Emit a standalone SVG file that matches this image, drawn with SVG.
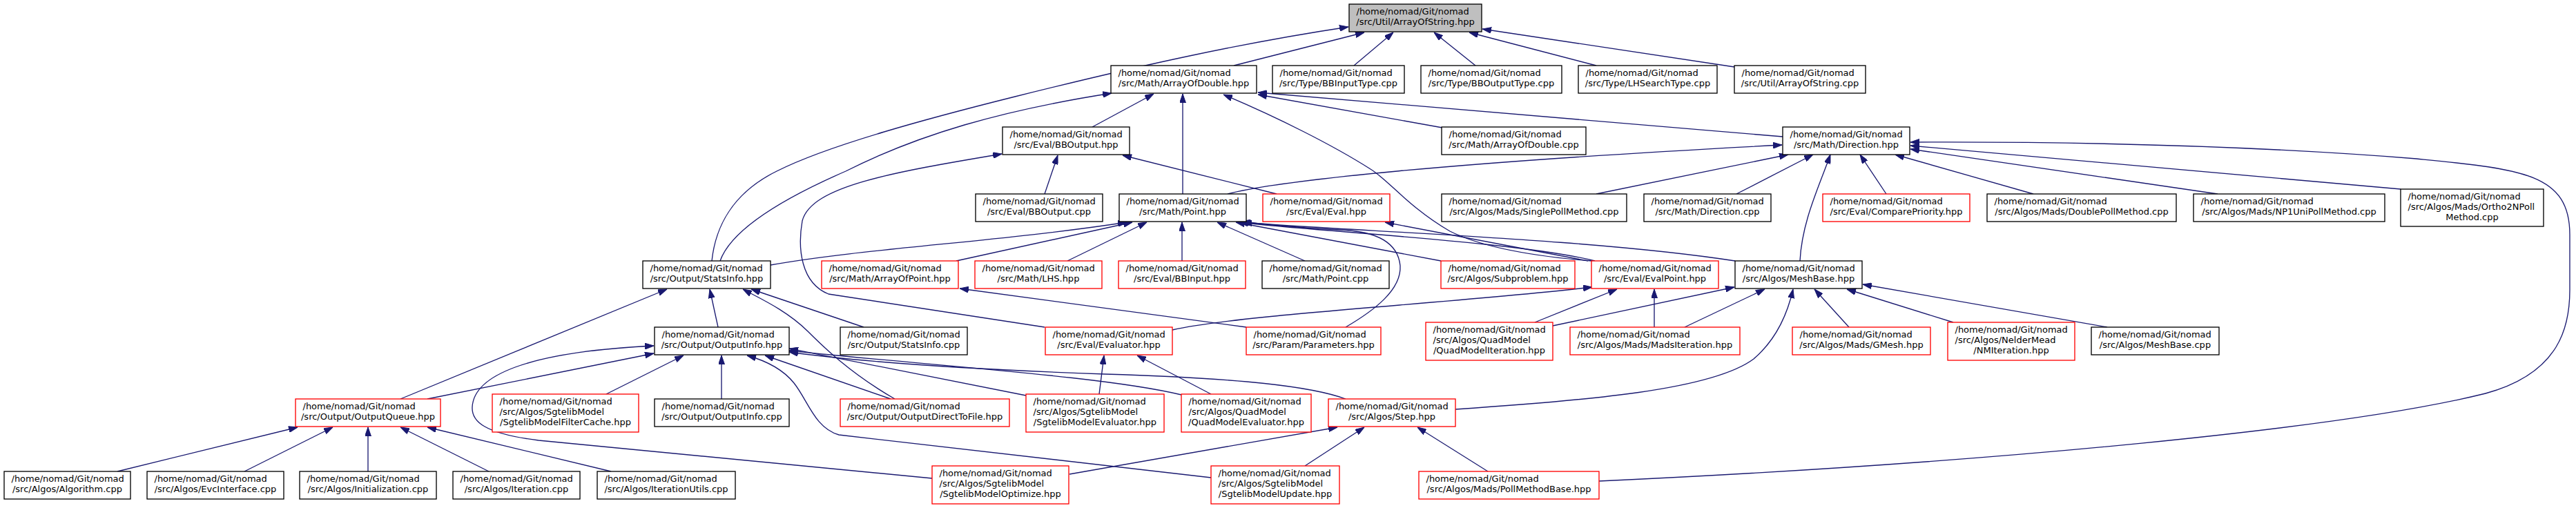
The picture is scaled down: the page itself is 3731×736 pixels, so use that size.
<svg xmlns="http://www.w3.org/2000/svg" width="3731" height="736" viewBox="0 0 3731 736">
<style>
.n rect{fill:#fff;stroke:#000;stroke-width:1.33}
.n.r rect{stroke:#f00}
.n.g rect{fill:#bfbfbf}
text{font-family:"DejaVu Sans",sans-serif;font-size:13px;fill:#000}
.m{text-anchor:middle}
.e path{fill:none;stroke:#191970;stroke-width:1.33;marker-end:url(#a)}
</style>
<defs>
<marker id="a" viewBox="0 0 13 9" refX="13" refY="4.5" markerWidth="13" markerHeight="9" markerUnits="userSpaceOnUse" orient="auto"><path d="M0,0 L13,4.5 L0,9 z" fill="#191970" stroke="#191970"/></marker>
</defs>
<rect width="3731" height="736" fill="#fff"/>
<g class="e">
<path d="M1031,378 C1036,330 1060,280 1125,248 C1200,210 1350,170 1470,140 C1650,95 1800,62 1953,39"/>
<path d="M1787,95 L1976,47"/>
<path d="M1961,95 L2018,47"/>
<path d="M2137,95 L2077,47"/>
<path d="M2312,95 L2128,47"/>
<path d="M2512,97 L2147,42"/>
<path d="M1582,184 L1671,136"/>
<path d="M1713,281 L1713,136"/>
<path d="M1043,378 C1060,330 1140,285 1225,248 C1330,195 1450,160 1610,135"/>
<path d="M2089,185 L1822,137"/>
<path d="M2582,198 L1822,134"/>
<path d="M2305,378 C2230,372 2150,360 2100,335 C2040,300 2010,260 1985,245 C1930,210 1850,170 1772,137"/>
<path d="M1778,281 C1850,262 2100,235 2581,210"/>
<path d="M2312,281 L2590,224"/>
<path d="M2515,281 L2626,224"/>
<path d="M2607,378 C2610,320 2635,270 2651,224"/>
<path d="M2732,281 L2694,224"/>
<path d="M2945,281 L2745,224"/>
<path d="M3212,281 L2767,216"/>
<path d="M3477,274 L2767,211"/>
<path d="M2316,697 C2900,670 3400,620 3600,570 C3710,540 3722,470 3722,420 L3722,340 C3722,250 3650,245 3500,230 C3250,210 3000,205 2767,206"/>
<path d="M1849,281 L1626,225"/>
<path d="M1513,474 L1200,426 C1160,410 1155,360 1162,320 C1175,270 1290,250 1451,223"/>
<path d="M1513,281 L1532,225"/>
<path d="M1116,384 C1250,360 1450,350 1632,322"/>
<path d="M1385,378 L1640,322"/>
<path d="M1546,378 L1661,322"/>
<path d="M1712,378 L1712,322"/>
<path d="M1890,378 L1763,322"/>
<path d="M2087,378 L1790,322"/>
<path d="M2310,378 C2200,350 1900,335 1795,322"/>
<path d="M2513,378 C2300,345 1950,335 1800,322"/>
<path d="M1949,474 C1990,450 2030,420 2028,385 C2025,355 2000,335 1940,333 C1880,330 1830,325 1798,321"/>
<path d="M2300,378 L2006,322"/>
<path d="M580,578 L966,419"/>
<path d="M1040,474 L1028,419"/>
<path d="M1296,578 C1230,540 1190,500 1170,480 C1140,450 1100,432 1076,419"/>
<path d="M1251,474 L1088,419"/>
<path d="M1805,474 L1390,418"/>
<path d="M619,578 L947,512"/>
<path d="M1350,693 L780,638 C700,628 683,610 684,590 C686,545 760,510 947,501"/>
<path d="M878,571 L990,515"/>
<path d="M1045,578 L1045,515"/>
<path d="M1754,692 L1215,630 C1180,620 1170,580 1150,555 C1130,530 1100,520 1082,515"/>
<path d="M1290,578 L1108,515"/>
<path d="M1486,573 L1143,505"/>
<path d="M1711,572 C1600,545 1350,530 1143,508"/>
<path d="M1949,578 C1900,560 1800,548 1600,542 C1400,535 1250,525 1143,510"/>
<path d="M1592,571 L1599,515"/>
<path d="M1754,571 L1647,515"/>
<path d="M1698,478 C1800,455 2100,440 2306,416"/>
<path d="M2223,467 L2342,419"/>
<path d="M2396,474 L2396,419"/>
<path d="M2249,472 L2512,416"/>
<path d="M2440,474 L2556,419"/>
<path d="M2108,593 C2300,580 2480,565 2540,520 C2575,490 2590,450 2597,419"/>
<path d="M2678,474 L2628,419"/>
<path d="M2829,467 L2675,419"/>
<path d="M3052,474 L2698,412"/>
<path d="M1549,687 L1937,619"/>
<path d="M1890,675 L1976,619"/>
<path d="M2155,683 L2053,619"/>
<path d="M170,683 L431,619"/>
<path d="M354,683 L482,619"/>
<path d="M533,683 L533,619"/>
<path d="M708,683 L580,619"/>
<path d="M885,683 L619,619"/>
</g>
<g id="n0" class="n g"><rect x="1954" y="6" width="192" height="40"/><text x="1964.5" y="21">/home/nomad/Git/nomad</text><text class="m" x="2050" y="36">/src/Util/ArrayOfString.hpp</text></g>
<g id="n1" class="n"><rect x="1609" y="95" width="211" height="40"/><text x="1619.5" y="110">/home/nomad/Git/nomad</text><text class="m" x="1714.5" y="125">/src/Math/ArrayOfDouble.hpp</text></g>
<g id="n2" class="n"><rect x="1843" y="95" width="191" height="40"/><text x="1853.5" y="110">/home/nomad/Git/nomad</text><text class="m" x="1938.5" y="125">/src/Type/BBInputType.cpp</text></g>
<g id="n3" class="n"><rect x="2058" y="95" width="204" height="40"/><text x="2068.5" y="110">/home/nomad/Git/nomad</text><text class="m" x="2160" y="125">/src/Type/BBOutputType.cpp</text></g>
<g id="n4" class="n"><rect x="2286" y="95" width="201" height="40"/><text x="2296.5" y="110">/home/nomad/Git/nomad</text><text class="m" x="2386.5" y="125">/src/Type/LHSearchType.cpp</text></g>
<g id="n5" class="n"><rect x="2512" y="95" width="190" height="40"/><text x="2522.5" y="110">/home/nomad/Git/nomad</text><text class="m" x="2607" y="125">/src/Util/ArrayOfString.cpp</text></g>
<g id="n6" class="n"><rect x="1452" y="184" width="184" height="40"/><text x="1462.5" y="199">/home/nomad/Git/nomad</text><text class="m" x="1544" y="214">/src/Eval/BBOutput.hpp</text></g>
<g id="n7" class="n"><rect x="2088" y="184" width="209" height="40"/><text x="2098.5" y="199">/home/nomad/Git/nomad</text><text class="m" x="2192.5" y="214">/src/Math/ArrayOfDouble.cpp</text></g>
<g id="n8" class="n"><rect x="2582" y="184" width="184" height="40"/><text x="2592.5" y="199">/home/nomad/Git/nomad</text><text class="m" x="2674" y="214">/src/Math/Direction.hpp</text></g>
<g id="n9" class="n"><rect x="1413" y="281" width="184" height="40"/><text x="1423.5" y="296">/home/nomad/Git/nomad</text><text class="m" x="1505" y="311">/src/Eval/BBOutput.cpp</text></g>
<g id="n10" class="n"><rect x="1621" y="281" width="184" height="40"/><text x="1631.5" y="296">/home/nomad/Git/nomad</text><text class="m" x="1713" y="311">/src/Math/Point.hpp</text></g>
<g id="n11" class="n r"><rect x="1829" y="281" width="184" height="40"/><text x="1839.5" y="296">/home/nomad/Git/nomad</text><text class="m" x="1921" y="311">/src/Eval/Eval.hpp</text></g>
<g id="n12" class="n"><rect x="2088" y="281" width="268" height="40"/><text x="2098.5" y="296">/home/nomad/Git/nomad</text><text class="m" x="2222" y="311">/src/Algos/Mads/SinglePollMethod.cpp</text></g>
<g id="n13" class="n"><rect x="2381" y="281" width="184" height="40"/><text x="2391.5" y="296">/home/nomad/Git/nomad</text><text class="m" x="2473" y="311">/src/Math/Direction.cpp</text></g>
<g id="n14" class="n r"><rect x="2640" y="281" width="213" height="40"/><text x="2650.5" y="296">/home/nomad/Git/nomad</text><text class="m" x="2746.5" y="311">/src/Eval/ComparePriority.hpp</text></g>
<g id="n15" class="n"><rect x="2878" y="281" width="274" height="40"/><text x="2888.5" y="296">/home/nomad/Git/nomad</text><text class="m" x="3015" y="311">/src/Algos/Mads/DoublePollMethod.cpp</text></g>
<g id="n16" class="n"><rect x="3177" y="281" width="277" height="40"/><text x="3187.5" y="296">/home/nomad/Git/nomad</text><text class="m" x="3315.5" y="311">/src/Algos/Mads/NP1UniPollMethod.cpp</text></g>
<g id="n17" class="n"><rect x="3477" y="274" width="207" height="54"/><text x="3487.5" y="289">/home/nomad/Git/nomad</text><text x="3487.5" y="304">/src/Algos/Mads/Ortho2NPoll</text><text class="m" x="3580.5" y="319">Method.cpp</text></g>
<g id="n18" class="n"><rect x="931" y="378" width="185" height="40"/><text x="941.5" y="393">/home/nomad/Git/nomad</text><text class="m" x="1023.5" y="408">/src/Output/StatsInfo.hpp</text></g>
<g id="n19" class="n r"><rect x="1190" y="378" width="198" height="40"/><text x="1200.5" y="393">/home/nomad/Git/nomad</text><text class="m" x="1289" y="408">/src/Math/ArrayOfPoint.hpp</text></g>
<g id="n20" class="n r"><rect x="1412" y="378" width="184" height="40"/><text x="1422.5" y="393">/home/nomad/Git/nomad</text><text class="m" x="1504" y="408">/src/Math/LHS.hpp</text></g>
<g id="n21" class="n r"><rect x="1620" y="378" width="184" height="40"/><text x="1630.5" y="393">/home/nomad/Git/nomad</text><text class="m" x="1712" y="408">/src/Eval/BBInput.hpp</text></g>
<g id="n22" class="n"><rect x="1828" y="378" width="184" height="40"/><text x="1838.5" y="393">/home/nomad/Git/nomad</text><text class="m" x="1920" y="408">/src/Math/Point.cpp</text></g>
<g id="n23" class="n r"><rect x="2087" y="378" width="194" height="40"/><text x="2097.5" y="393">/home/nomad/Git/nomad</text><text class="m" x="2184" y="408">/src/Algos/Subproblem.hpp</text></g>
<g id="n24" class="n r"><rect x="2305" y="378" width="184" height="40"/><text x="2315.5" y="393">/home/nomad/Git/nomad</text><text class="m" x="2397" y="408">/src/Eval/EvalPoint.hpp</text></g>
<g id="n25" class="n"><rect x="2513" y="378" width="184" height="40"/><text x="2523.5" y="393">/home/nomad/Git/nomad</text><text class="m" x="2605" y="408">/src/Algos/MeshBase.hpp</text></g>
<g id="n26" class="n"><rect x="948" y="474" width="195" height="40"/><text x="958.5" y="489">/home/nomad/Git/nomad</text><text class="m" x="1045.5" y="504">/src/Output/OutputInfo.hpp</text></g>
<g id="n27" class="n"><rect x="1217" y="474" width="184" height="40"/><text x="1227.5" y="489">/home/nomad/Git/nomad</text><text class="m" x="1309" y="504">/src/Output/StatsInfo.cpp</text></g>
<g id="n28" class="n r"><rect x="1514" y="474" width="184" height="40"/><text x="1524.5" y="489">/home/nomad/Git/nomad</text><text class="m" x="1606" y="504">/src/Eval/Evaluator.hpp</text></g>
<g id="n29" class="n r"><rect x="1805" y="474" width="195" height="40"/><text x="1815.5" y="489">/home/nomad/Git/nomad</text><text class="m" x="1902.5" y="504">/src/Param/Parameters.hpp</text></g>
<g id="n30" class="n r"><rect x="2065" y="467" width="184" height="55"/><text x="2075.5" y="482">/home/nomad/Git/nomad</text><text x="2075.5" y="497">/src/Algos/QuadModel</text><text class="m" x="2157" y="512">/QuadModelIteration.hpp</text></g>
<g id="n31" class="n r"><rect x="2274" y="474" width="246" height="40"/><text x="2284.5" y="489">/home/nomad/Git/nomad</text><text class="m" x="2397" y="504">/src/Algos/Mads/MadsIteration.hpp</text></g>
<g id="n32" class="n r"><rect x="2596" y="474" width="200" height="40"/><text x="2606.5" y="489">/home/nomad/Git/nomad</text><text class="m" x="2696" y="504">/src/Algos/Mads/GMesh.hpp</text></g>
<g id="n33" class="n r"><rect x="2821" y="467" width="184" height="55"/><text x="2831.5" y="482">/home/nomad/Git/nomad</text><text x="2831.5" y="497">/src/Algos/NelderMead</text><text class="m" x="2913" y="512">/NMIteration.hpp</text></g>
<g id="n34" class="n"><rect x="3029" y="474" width="185" height="40"/><text x="3039.5" y="489">/home/nomad/Git/nomad</text><text class="m" x="3121.5" y="504">/src/Algos/MeshBase.cpp</text></g>
<g id="n35" class="n r"><rect x="428" y="578" width="210" height="40"/><text x="438.5" y="593">/home/nomad/Git/nomad</text><text class="m" x="533" y="608">/src/Output/OutputQueue.hpp</text></g>
<g id="n36" class="n r"><rect x="713" y="571" width="212" height="55"/><text x="723.5" y="586">/home/nomad/Git/nomad</text><text x="723.5" y="601">/src/Algos/SgtelibModel</text><text class="m" x="819" y="616">/SgtelibModelFilterCache.hpp</text></g>
<g id="n37" class="n"><rect x="948" y="578" width="195" height="40"/><text x="958.5" y="593">/home/nomad/Git/nomad</text><text class="m" x="1045.5" y="608">/src/Output/OutputInfo.cpp</text></g>
<g id="n38" class="n r"><rect x="1217" y="578" width="245" height="40"/><text x="1227.5" y="593">/home/nomad/Git/nomad</text><text class="m" x="1339.5" y="608">/src/Output/OutputDirectToFile.hpp</text></g>
<g id="n39" class="n r"><rect x="1486" y="571" width="200" height="55"/><text x="1496.5" y="586">/home/nomad/Git/nomad</text><text x="1496.5" y="601">/src/Algos/SgtelibModel</text><text class="m" x="1586" y="616">/SgtelibModelEvaluator.hpp</text></g>
<g id="n40" class="n r"><rect x="1711" y="571" width="188" height="55"/><text x="1721.5" y="586">/home/nomad/Git/nomad</text><text x="1721.5" y="601">/src/Algos/QuadModel</text><text class="m" x="1805" y="616">/QuadModelEvaluator.hpp</text></g>
<g id="n41" class="n r"><rect x="1924" y="578" width="184" height="40"/><text x="1934.5" y="593">/home/nomad/Git/nomad</text><text class="m" x="2016" y="608">/src/Algos/Step.hpp</text></g>
<g id="n42" class="n"><rect x="6" y="683" width="183" height="40"/><text x="16.5" y="698">/home/nomad/Git/nomad</text><text class="m" x="97.5" y="713">/src/Algos/Algorithm.cpp</text></g>
<g id="n43" class="n"><rect x="213" y="683" width="198" height="40"/><text x="223.5" y="698">/home/nomad/Git/nomad</text><text class="m" x="312" y="713">/src/Algos/EvcInterface.cpp</text></g>
<g id="n44" class="n"><rect x="434" y="683" width="198" height="40"/><text x="444.5" y="698">/home/nomad/Git/nomad</text><text class="m" x="533" y="713">/src/Algos/Initialization.cpp</text></g>
<g id="n45" class="n"><rect x="656" y="683" width="184" height="40"/><text x="666.5" y="698">/home/nomad/Git/nomad</text><text class="m" x="748" y="713">/src/Algos/Iteration.cpp</text></g>
<g id="n46" class="n"><rect x="865" y="683" width="200" height="40"/><text x="875.5" y="698">/home/nomad/Git/nomad</text><text class="m" x="965" y="713">/src/Algos/IterationUtils.cpp</text></g>
<g id="n47" class="n r"><rect x="1350" y="675" width="198" height="55"/><text x="1360.5" y="690">/home/nomad/Git/nomad</text><text x="1360.5" y="705">/src/Algos/SgtelibModel</text><text class="m" x="1449" y="720">/SgtelibModelOptimize.hpp</text></g>
<g id="n48" class="n r"><rect x="1754" y="675" width="186" height="55"/><text x="1764.5" y="690">/home/nomad/Git/nomad</text><text x="1764.5" y="705">/src/Algos/SgtelibModel</text><text class="m" x="1847" y="720">/SgtelibModelUpdate.hpp</text></g>
<g id="n49" class="n r"><rect x="2055" y="683" width="261" height="40"/><text x="2065.5" y="698">/home/nomad/Git/nomad</text><text class="m" x="2185.5" y="713">/src/Algos/Mads/PollMethodBase.hpp</text></g>
</svg>
